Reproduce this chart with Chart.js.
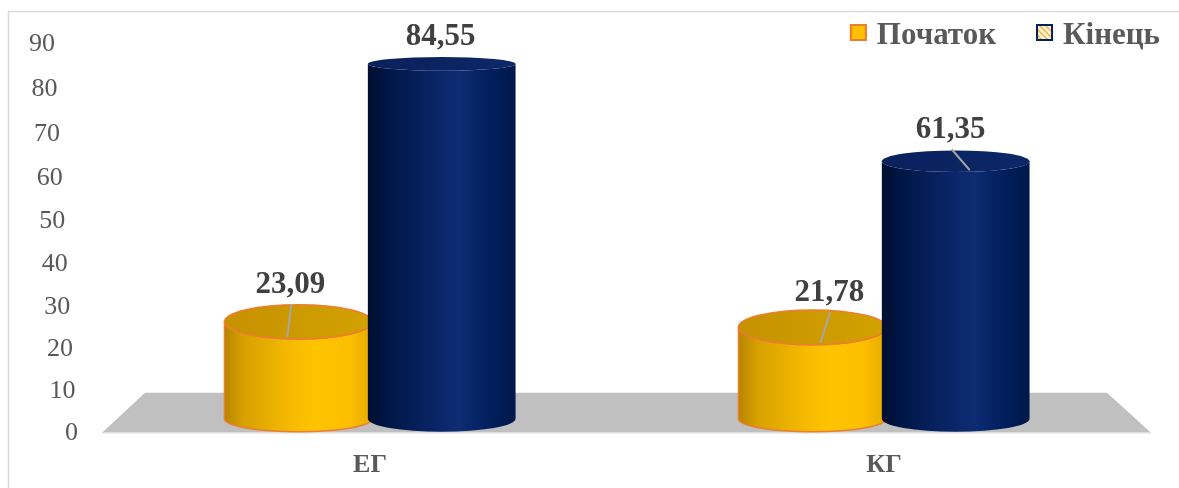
<!DOCTYPE html>
<html lang="uk">
<head>
    <meta charset="UTF-8">
    <title>ЕГ / КГ — Початок і Кінець</title>
    <script src="https://cdn.jsdelivr.net/npm/chart.js"></script>
    <style>
        html, body { margin: 0; padding: 0; background: #ffffff; }
        canvas { display: block; }
    </style>
</head>
<body>
    <canvas id="groupsChart" width="1179" height="488"></canvas>

    <script>
        // Data
        const groups = ['ЕГ', 'КГ'];
        const seriesNames = ['Початок', 'Кінець'];
        const startValues = [23.09, 21.78];
        const endValues = [84.55, 61.35];
        const yTicks = [0, 10, 20, 30, 40, 50, 60, 70, 80, 90];

        const FONT = "'Liberation Serif', 'Times New Roman', serif";

        // Cylinder colours per series
        const palettes = [
            {
                body: [[0, '#b58400'], [0.12, '#d6a000'], [0.45, '#f6ba00'], [0.62, '#ffc400'], [0.85, '#fcbf00'], [1, '#e6aa00']],
                top: ['#c69200', '#d3a100'],
                outline: '#ed7d31'
            },
            {
                body: [[0, '#000e30'], [0.15, '#001748'], [0.5, '#0a276a'], [0.62, '#0d2c72'], [0.85, '#001e5a'], [1, '#00184a']],
                top: ['#09205c', '#0d2868'],
                outline: null
            }
        ];

        // Where each value label sits relative to its cylinder top (dx, dy) and leader line end (lead)
        const labelPlacement = [
            [{ dx: -8, dy: -37, lead: -11 }, { dx: 17, dy: -34, lead: 8 }],
            [{ dx: -1, dy: -27, lead: null }, { dx: -5, dy: -31, lead: 14 }]
        ];

        function fmt(v) {
            return v.toFixed(2).replace('.', ',');
        }

        function legendPattern() {
            const c = document.createElement('canvas');
            c.width = 6;
            c.height = 6;
            const g = c.getContext('2d');
            g.fillStyle = '#fff2cc';
            g.fillRect(0, 0, 6, 6);
            g.strokeStyle = '#f4b450';
            g.lineWidth = 1.5;
            g.beginPath();
            g.moveTo(-1, -1); g.lineTo(7, 7);
            g.moveTo(-4, 2); g.lineTo(4, 10);
            g.moveTo(2, -4); g.lineTo(10, 4);
            g.stroke();
            return g.createPattern(c, 'repeat');
        }

        function drawCylinder(ctx, cx, topY, baseY, rx, ryTop, ryBase, pal) {
            const grad = ctx.createLinearGradient(cx - rx, 0, cx + rx, 0);
            pal.body.forEach(s => grad.addColorStop(s[0], s[1]));

            // side wall
            ctx.beginPath();
            ctx.moveTo(cx - rx, topY);
            ctx.lineTo(cx - rx, baseY);
            ctx.ellipse(cx, baseY, rx, ryBase, 0, Math.PI, 0, true);
            ctx.lineTo(cx + rx, topY);
            ctx.ellipse(cx, topY, rx, ryTop, 0, 0, Math.PI, false);
            ctx.closePath();
            ctx.fillStyle = grad;
            ctx.fill();
            if (pal.outline) {
                ctx.strokeStyle = pal.outline;
                ctx.lineWidth = 1.5;
                ctx.stroke();
            }

            // top cap
            const topGrad = ctx.createLinearGradient(cx - rx, 0, cx + rx, 0);
            topGrad.addColorStop(0, pal.top[0]);
            topGrad.addColorStop(1, pal.top[1]);
            ctx.beginPath();
            ctx.ellipse(cx, topY, rx, ryTop, 0, 0, Math.PI * 2);
            ctx.fillStyle = topGrad;
            ctx.fill();
            if (pal.outline) {
                ctx.strokeStyle = pal.outline;
                ctx.lineWidth = 1.5;
                ctx.stroke();
            }
        }

        const cylinderPlugin = {
            id: 'cylinders',
            beforeDraw(chart) {
                const ctx = chart.ctx;
                // outer frame
                ctx.save();
                ctx.strokeStyle = '#d9d9d9';
                ctx.lineWidth = 1.5;
                ctx.beginPath();
                ctx.moveTo(8.5, chart.height + 2);
                ctx.lineTo(8.5, 11.5);
                ctx.lineTo(chart.width + 2, 11.5);
                ctx.stroke();
                ctx.restore();
            },
            beforeDatasetsDraw(chart) {
                const ctx = chart.ctx;
                const area = chart.chartArea;
                const y = chart.scales.y;
                const base = y.getPixelForValue(0);

                // floor
                ctx.save();
                ctx.fillStyle = '#c0c0c0';
                ctx.beginPath();
                ctx.moveTo(area.left + 32, base - 26);
                ctx.lineTo(area.right - 34, base - 26);
                ctx.lineTo(area.right + 10, base + 14);
                ctx.lineTo(area.left - 11, base + 14);
                ctx.closePath();
                ctx.fill();
                ctx.strokeStyle = '#dedede';
                ctx.lineWidth = 1.5;
                ctx.beginPath();
                ctx.moveTo(area.left - 11, base + 14);
                ctx.lineTo(area.right + 10, base + 14);
                ctx.stroke();

                // value axis labels on the back wall
                ctx.fillStyle = '#595959';
                ctx.font = '26px ' + FONT;
                ctx.textAlign = 'right';
                ctx.textBaseline = 'middle';
                const top = yTicks[yTicks.length - 1];
                yTicks.forEach(v => {
                    const t = v / top;
                    const py = y.getPixelForValue(v) + 14.5 - 11.5 * t * t * t;
                    const px = 78 - 23 * t;
                    ctx.fillText(String(v), px, py);
                });
                ctx.restore();
            },
            beforeDatasetDraw() {
                // flat bars are replaced by cylinders
                return false;
            },
            afterDatasetsDraw(chart) {
                const ctx = chart.ctx;
                const area = chart.chartArea;
                ctx.save();
                const tops = [];
                chart.data.datasets.forEach((ds, di) => {
                    const meta = chart.getDatasetMeta(di);
                    meta.data.forEach((bar, i) => {
                        const rx = bar.width / 2;
                        const ryTop = 6 + 0.04 * (bar.y - area.top);
                        drawCylinder(ctx, bar.x, bar.y, bar.base, rx, ryTop, 13, palettes[di]);
                        tops.push({ di, i, x: bar.x, y: bar.y, ryTop, v: ds.data[i] });
                    });
                });

                // value labels with leader lines
                ctx.font = 'bold 31px ' + FONT;
                ctx.textAlign = 'center';
                ctx.textBaseline = 'middle';
                tops.forEach(p => {
                    const pl = labelPlacement[p.di][p.i];
                    const lx = p.x + pl.dx;
                    const ly = p.y + pl.dy;
                    if (pl.lead !== null) {
                        ctx.strokeStyle = '#a6a6a6';
                        ctx.lineWidth = 2;
                        ctx.beginPath();
                        ctx.moveTo(lx + 1, ly + 19);
                        ctx.lineTo(p.x + pl.lead, p.y + p.ryTop - 2);
                        ctx.stroke();
                    }
                    ctx.fillStyle = '#404040';
                    ctx.fillText(fmt(p.v), lx, ly);
                });
                ctx.restore();
            },
            afterDraw(chart) {
                // legend, right aligned along the top
                const ctx = chart.ctx;
                const fills = [
                    { fill: '#ffc000', border: '#ed7d31' },
                    { fill: legendPattern(), border: '#002060' }
                ];
                ctx.save();
                ctx.font = 'bold 31px ' + FONT;
                const box = 17, gapText = 10, gapItem = 40;
                const widths = chart.data.datasets.map(ds => ctx.measureText(ds.label).width);
                let total = 0;
                widths.forEach((w, k) => { total += box + gapText + w + (k < widths.length - 1 ? gapItem : 0); });
                let x = 1160 - total;
                chart.data.datasets.forEach((ds, k) => {
                    ctx.fillStyle = fills[k].fill;
                    ctx.fillRect(x, 24, box, box);
                    ctx.strokeStyle = fills[k].border;
                    ctx.lineWidth = 2;
                    ctx.strokeRect(x + 1, 25, box - 2, box - 2);
                    ctx.fillStyle = '#595959';
                    ctx.textAlign = 'left';
                    ctx.textBaseline = 'alphabetic';
                    ctx.fillText(ds.label, x + box + gapText, 44);
                    x += box + gapText + widths[k] + gapItem;
                });
                ctx.restore();
            }
        };

        new Chart(document.getElementById('groupsChart'), {
            type: 'bar',
            data: {
                labels: groups,
                datasets: [
                    {
                        label: seriesNames[0],
                        data: startValues,
                        backgroundColor: '#ffc000',
                        categoryPercentage: 0.558,
                        barPercentage: 1.03
                    },
                    {
                        label: seriesNames[1],
                        data: endValues,
                        backgroundColor: '#002060',
                        categoryPercentage: 0.558,
                        barPercentage: 1.03
                    }
                ]
            },
            options: {
                responsive: false,
                animation: false,
                layout: {
                    // the axis reserves tick padding twice, so pull the bottom in
                    padding: { top: 41, left: 113, right: 38, bottom: -24 }
                },
                plugins: {
                    legend: { display: false },
                    tooltip: { enabled: false }
                },
                scales: {
                    x: {
                        grid: { display: false, drawTicks: false },
                        border: { display: false },
                        ticks: {
                            color: '#595959',
                            padding: 31,
                            font: { family: FONT, size: 26, weight: 'bold' }
                        }
                    },
                    y: {
                        display: false,
                        min: 0,
                        max: 90
                    }
                }
            },
            plugins: [cylinderPlugin]
        });
    </script>
</body>
</html>
